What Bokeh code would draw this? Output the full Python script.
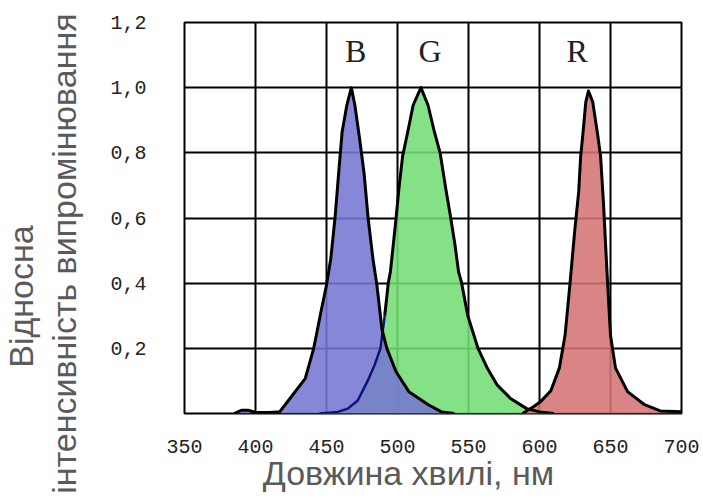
import numpy as np
from bokeh.plotting import figure
from bokeh.models import FixedTicker, CustomJSTickFormatter, Label, ColumnDataSource
from bokeh.core.properties import value
from bokeh.embed import file_html
from bokeh.resources import INLINE

# ---- data ----
blue_wl = [385, 390, 395, 400, 410, 417, 426, 435, 441, 446, 450, 453, 456, 458.6, 461,
           464.3, 467.5, 470, 473.4, 476.4, 479.3, 482.7, 485.5, 489, 492.5, 499, 508, 522, 531, 540]
blue_v = [0.0, 0.01, 0.01, 0.003, 0.003, 0.005, 0.056, 0.107, 0.2, 0.31, 0.394, 0.475, 0.6, 0.74, 0.864,
          0.946, 1.0, 0.946, 0.84, 0.74, 0.6, 0.475, 0.394, 0.26, 0.2, 0.128, 0.067, 0.026, 0.005, 0.0]

green_wl = [445, 458, 465, 472, 479, 484, 488, 491, 493.5, 495, 497, 499, 501, 503.6, 507.2, 511,
            516.5, 521.5, 526, 530, 534, 537.5, 540.5, 543, 545, 549.5, 556.7, 563.4, 570.3,
            579.6, 591, 600, 610]
green_v = [0.0, 0.005, 0.015, 0.04, 0.1, 0.15, 0.2, 0.3, 0.4, 0.435, 0.517, 0.6, 0.69, 0.79, 0.864, 0.946,
           1.0, 0.946, 0.864, 0.8, 0.69, 0.6, 0.517, 0.435, 0.404, 0.3, 0.2, 0.138, 0.087,
           0.046, 0.015, 0.005, 0.0]

red_wl = [588, 595.5, 600.4, 608, 614, 618, 621.5, 625, 627.6, 629, 630.5, 632.6, 634.5, 637.5, 641,
          643, 645, 647.4, 650, 653.5, 662, 674, 685, 700]
red_v = [0.0, 0.02, 0.035, 0.07, 0.14, 0.24, 0.4, 0.57, 0.68, 0.79, 0.855, 0.956, 0.99, 0.956, 0.855,
         0.79, 0.65, 0.445, 0.24, 0.14, 0.067, 0.027, 0.008, 0.005]

band_names = ["B", "G", "R"]
band_label_wl = [470.5, 523, 626.5]
band_label_y = [1.114, 1.114, 1.114]

x_ticks = [350, 400, 450, 500, 550, 600, 650, 700]
y_ticks = [0.2, 0.4, 0.6, 0.8, 1.0, 1.2]

x_title = "Довжина хвилі, нм"
y_title_1 = "Відносна"
y_title_2 = "інтенсивність випромінювання"

# ---- figure ----
p = figure(frame_width=497, frame_height=391, x_range=(350, 700), y_range=(0, 1.2),
           output_backend="svg", toolbar_location=None,
           min_border_left=184, min_border_right=20, min_border_top=22, min_border_bottom=88,
           background_fill_color="white", border_fill_color="white")
p.outline_line_color = "black"
p.outline_line_width = 2

p.xaxis.ticker = FixedTicker(ticks=x_ticks)
p.yaxis.ticker = FixedTicker(ticks=y_ticks)
p.yaxis.formatter = CustomJSTickFormatter(code="return tick.toFixed(1).replace('.', ',');")

for ax in (p.xaxis[0], p.yaxis[0]):
    ax.axis_line_color = None
    ax.major_tick_line_color = None
    ax.minor_tick_line_color = None
    ax.major_label_text_font = "Liberation Mono"
    ax.major_label_text_font_size = "20px"
    ax.major_label_text_color = "#222222"
p.xaxis.major_label_text_align = "right"
p.xaxis.major_label_standoff = 20
p.yaxis.major_label_standoff = 32

for g in (p.xgrid[0], p.ygrid[0]):
    g.grid_line_color = "black"
    g.grid_line_width = 2
    g.grid_line_alpha = 1.0

# fills
p.varea(x=green_wl, y1=0, y2=green_v, fill_color="#74dd74", fill_alpha=0.88)
p.varea(x=blue_wl, y1=0, y2=blue_v, fill_color="#7676d2", fill_alpha=0.88)
p.varea(x=red_wl, y1=0, y2=red_v, fill_color="#d47474", fill_alpha=0.88)

# green outline: navy where it lies under the blue band, black elsewhere
gw = np.array(green_wl, dtype=float)
gv = np.array(green_v, dtype=float)
under = np.interp(gw, blue_wl, blue_v) > gv
k = int(np.argmax(~under & (gw > 470)))
p.line(gw[k:], gv[k:], line_color="black", line_width=3, line_join="round")
p.line(gw[:k + 1], gv[:k + 1], line_color="#10107a", line_width=2.5, line_join="round")

p.line(blue_wl, blue_v, line_color="black", line_width=3, line_join="round")
p.line(red_wl, red_v, line_color="black", line_width=3, line_join="round")

src = ColumnDataSource(dict(x=band_label_wl, y=band_label_y, t=band_names))
p.text(x="x", y="y", text="t", source=src, text_align="center", text_baseline="middle",
       text_font=value("Liberation Serif"), text_font_size="32px", text_color="#222222")

# axis titles (placed in side panels so that they are not clipped to the frame)
title_color = "#5a5a5a"
p.add_layout(Label(x=507.7, y=-0.184, text=x_title, text_align="center",
                   text_baseline="alphabetic", text_font="Liberation Sans",
                   text_font_size="34px", text_color=title_color), "below")
p.add_layout(Label(x=264.8, y=0.491, text=y_title_2, angle=np.pi / 2, text_align="center",
                   text_baseline="alphabetic", text_font="Liberation Sans",
                   text_font_size="34px", text_color=title_color), "left")
p.add_layout(Label(x=235.2, y=0.359, text=y_title_1, angle=np.pi / 2, text_align="center",
                   text_baseline="alphabetic", text_font="Liberation Sans",
                   text_font_size="34px", text_color=title_color), "left")

open("out.html", "w").write(file_html(p, INLINE))
